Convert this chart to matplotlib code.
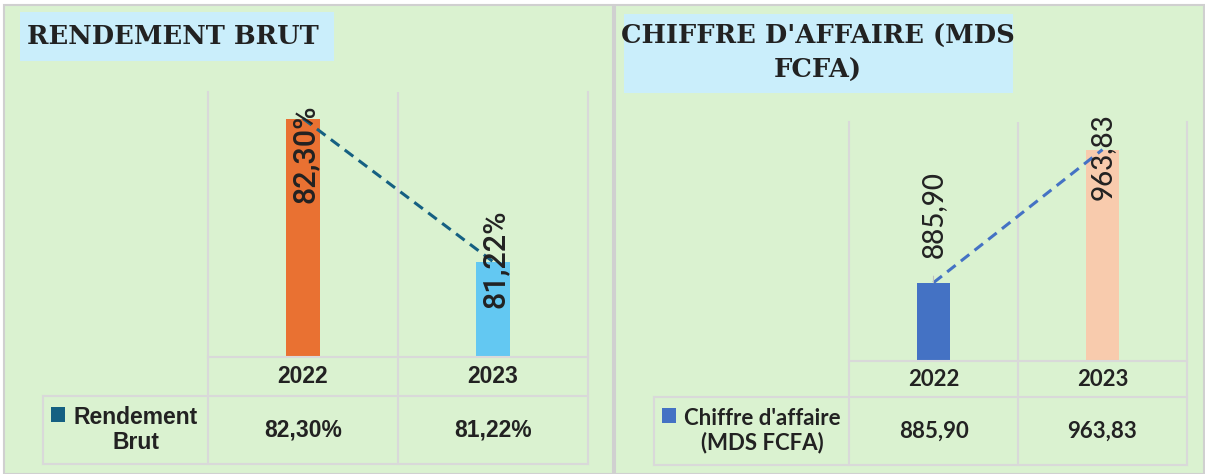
import matplotlib

matplotlib.use("Agg")
import matplotlib.pyplot as plt
from matplotlib import transforms
from matplotlib.patches import Rectangle
from matplotlib.lines import Line2D

# data
years = ["2022", "2023"]
rendement = [82.30, 81.22]
rendement_labels = ["82,30%", "81,22%"]
chiffre = [885.90, 963.83]
chiffre_labels = ["885,90", "963,83"]

W, H = 1205, 474
_BG = "#DAF2D0"
_TITLE_BG = "#CAEEFB"
_GRID = "#D9D9D9"
_TXT = "#222222"


def fx(x):
    return x / W


def fy(y):
    return 1 - y / H


def box(fig, x0, y0, x1, y1, **kw):
    fig.add_artist(Rectangle((fx(x0), fy(y1)), fx(x1) - fx(x0), fy(y0) - fy(y1),
                             transform=fig.transFigure, **kw))


def hline(fig, x0, x1, y, **kw):
    fig.add_artist(Line2D([fx(x0), fx(x1)], [fy(y), fy(y)], transform=fig.transFigure, **kw))


def panel(fig, spec):
    # chart area
    l, t, r, b = spec["axbox"]
    ax = fig.add_axes([fx(l), fy(b), fx(r) - fx(l), fy(t) - fy(b)])
    ax.set_zorder(2)
    ax.set_facecolor("none")
    x = range(len(years))
    ax.bar(x, spec["values"], width=spec["width"], color=spec["colors"], zorder=2)
    ax.plot(x, spec["values"], color=spec["line"], lw=2.2, ls=(0, (3.5, 2.2)), zorder=3)
    ax.set_xlim(-0.5, len(years) - 0.5)
    ax.set_ylim(*spec["ylim"])
    ax.set_xticks([])
    ax.set_yticks([])
    ax.spines["top"].set_visible(False)
    for s in ("left", "right", "bottom"):
        ax.spines[s].set_color(_GRID)
        ax.spines[s].set_linewidth(1.5)
    for i in range(1, len(years)):
        ax.axvline(i - 0.5, color=_GRID, lw=1.5, zorder=1)

    for i, (v, lab) in enumerate(zip(spec["values"], spec["labels"])):
        off = spec["offsets"][i] * 0.72
        kw = {}
        if spec["leader"][i]:
            kw["arrowprops"] = dict(arrowstyle="-", color="#BFBFBF", lw=0.8,
                                    shrinkA=11, shrinkB=0)
        ax.annotate(lab, xy=(i, v), xytext=(spec["dx"], off), textcoords="offset points",
                    rotation=90, ha="center", va="center", fontsize=spec["lblsize"],
                    family=spec["lblfont"], fontweight=spec["lblweight"], color=_TXT,
                    zorder=4, annotation_clip=False, **kw)

    # data table
    tr = transforms.blended_transform_factory(ax.transData, fig.transFigure)
    row_y, bot_y = spec["rows"]
    for xv in [i - 0.5 for i in range(len(years) + 1)]:
        fig.add_artist(Line2D([xv, xv], [fy(b), fy(bot_y)], transform=tr, color=_GRID, lw=1.5))
    left = spec["tbl_left"]
    hline(fig, left, r, row_y, color=_GRID, lw=1.5)
    hline(fig, left, r, bot_y, color=_GRID, lw=1.5)
    fig.add_artist(Line2D([fx(left), fx(left)], [fy(row_y), fy(bot_y)],
                          transform=fig.transFigure, color=_GRID, lw=1.5))
    for i, yr in enumerate(years):
        fig.text(i, fy((b + row_y) / 2), yr, transform=tr, ha="center", va="center",
                 fontsize=spec["tblsize"], fontweight="bold", family=spec["font"], color=_TXT)
        fig.text(i, fy((row_y + bot_y) / 2), spec["table_vals"][i], transform=tr,
                 ha="center", va="center", fontsize=spec["tblsize"], fontweight="bold",
                 family=spec["font"], color=_TXT)
    mx0, my0 = spec["marker"]
    box(fig, mx0, my0, mx0 + 14, my0 + 15, color=spec["line"], lw=0)
    fig.text(fx(spec["rowlbl_x"]), fy((row_y + bot_y) / 2), spec["rowlbl"], ha="center",
             va="center", multialignment="center", fontsize=spec["tblsize"],
             fontweight="bold", family=spec["font"], color=_TXT, linespacing=1.15)

    # title
    tx0, ty0, tx1, ty1 = spec["titlebox"]
    box(fig, tx0, ty0, tx1, ty1, color=_TITLE_BG, lw=0, zorder=0.5)
    fig.text(fx(spec["title_x"]), fy((ty0 + ty1) / 2), spec["title"], ha=spec["title_ha"],
             va="center", multialignment="center", fontsize=18.5, fontweight="bold",
             family="DejaVu Serif", color=_TXT, linespacing=1.45)
    return ax


fig = plt.figure(figsize=(W / 100, H / 100), dpi=100)
fig.patch.set_facecolor("white")

# panel backgrounds
box(fig, 4, 5, 613, 474, facecolor=_BG, edgecolor="#D0D0D0", lw=1.5, zorder=-10)
box(fig, 615, 5, 1204, 474, facecolor=_BG, edgecolor="#D0D0D0", lw=1.5, zorder=-10)

panel(fig, dict(
    axbox=(208, 92, 588, 357), values=rendement, labels=rendement_labels,
    table_vals=rendement_labels, colors=["#E97132", "#63C8F2"], line="#156082",
    width=0.184, ylim=(80.5, 82.5), offsets=[-35, 3], leader=[False, False], dx=2,
    font="Liberation Sans", lblfont="Roboto", lblweight="medium", lblsize=22,
    tblsize=16.5, rows=(396, 464),
    tbl_left=43, marker=(51, 407), rowlbl="Rendement\nBrut", rowlbl_x=136,
    titlebox=(20, 12, 334, 61), title="RENDEMENT BRUT", title_x=27, title_ha="left",
))
panel(fig, dict(
    axbox=(849, 122, 1187, 361), values=chiffre, labels=chiffre_labels,
    table_vals=chiffre_labels, colors=["#4472C4", "#F8CBAD"], line="#4472C4",
    width=0.19, ylim=(840, 980), offsets=[68, -7], leader=[True, False], dx=0,
    font="Lato", lblfont="Lato", lblweight="medium", lblsize=20, tblsize=16,
    rows=(397, 465),
    tbl_left=654, marker=(662, 408), rowlbl="Chiffre d'affaire\n(MDS FCFA)", rowlbl_x=762,
    titlebox=(624, 14, 1013, 93), title="CHIFFRE D'AFFAIRE (MDS\nFCFA)", title_x=818,
    title_ha="center",
))

fig.savefig("out.png", dpi=100, facecolor=fig.get_facecolor())
